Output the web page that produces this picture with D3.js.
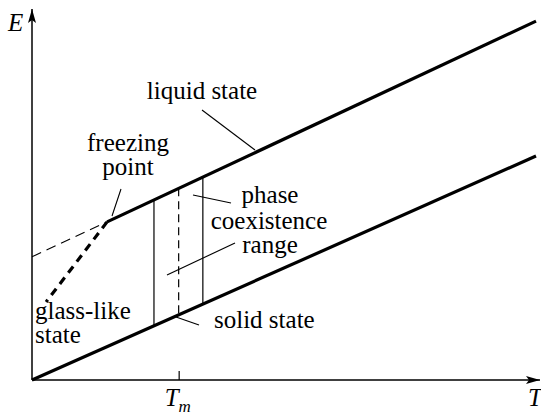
<!DOCTYPE html>
<html>
<head>
<meta charset="utf-8">
<script src="https://cdn.jsdelivr.net/npm/d3@7/dist/d3.min.js"></script>
<style>
  html, body { margin: 0; padding: 0; background: #fff; }
  svg { display: block; }
</style>
</head>
<body>
<svg id="chart" width="541" height="416"></svg>
<script>
// Energy E versus temperature T (schematic), data units
const liquidT = [1.49, 10];      // liquid branch, starts at the freezing point
const liquidE = [3.12, 7.08];
const solidT = [0, 10];          // solid branch
const solidE = [0, 4.42];
const glassT = [0.28, 1.49];     // supercooled / glass-like branch
const glassE = [1.54, 3.12];
const extrapT = [0, 1.49];       // liquid branch extrapolated to T = 0
const extrapE = [2.43, 3.12];
const coexistT = [2.42, 3.39];   // edges of the phase coexistence range
const meltT = [2.91];            // melting temperature T_m
const tickLabels = ["T", "m"];

const FONT = "'Liberation Serif'";
const FS = 25;

// make sure the face is resolved before drawing
const ctx = document.createElement("canvas").getContext("2d");
ctx.font = `${FS}px ${FONT}`; ctx.measureText("liquid state");
ctx.font = `italic ${FS}px ${FONT}`; ctx.measureText("T");

const svg = d3.select("#chart");
const x = d3.scaleLinear().domain([0, 10]).range([32, 536]);
const y = d3.scaleLinear().domain([0, 7.3]).range([380, 10]);

const pts = (ts, es) => ts.map((t, i) => [x(t), y(es[i])]);
const lineGen = d3.line();
const lerp = (ts, es, t) => es[0] + (es[1] - es[0]) * (t - ts[0]) / (ts[1] - ts[0]);

// arrow heads
const defs = svg.append("defs");
defs.append("marker")
  .attr("id", "arrow")
  .attr("viewBox", "0 0 14 8")
  .attr("refX", 14).attr("refY", 4)
  .attr("markerWidth", 14).attr("markerHeight", 8)
  .attr("markerUnits", "userSpaceOnUse")
  .attr("orient", "auto")
  .append("path")
  .attr("d", "M0,0 L14,4 L0,8 L3,4 Z")
  .attr("fill", "#000");

// axes
svg.append("line")
  .attr("x1", x(0)).attr("y1", y(0)).attr("x2", 540).attr("y2", y(0))
  .attr("stroke", "#000").attr("stroke-width", 1.5)
  .attr("marker-end", "url(#arrow)");
svg.append("line")
  .attr("x1", x(0)).attr("y1", y(0)).attr("x2", x(0)).attr("y2", 9)
  .attr("stroke", "#000").attr("stroke-width", 1.5)
  .attr("marker-end", "url(#arrow)");

// T_m tick via d3 axis
const axis = d3.axisBottom(x).tickValues(meltT).tickSizeInner(-9).tickSizeOuter(0).tickFormat("");
const gAxis = svg.append("g").attr("transform", `translate(0,${y(0)})`).call(axis);
gAxis.select(".domain").remove();
gAxis.selectAll(".tick line").attr("stroke", "#000").attr("stroke-width", 1.2);

// T_m label
const tmLabel = svg.append("text")
  .attr("x", x(meltT[0]) - 14).attr("y", 406)
  .attr("font-family", FONT)
  .attr("font-style", "italic").attr("font-size", 25);
tmLabel.append("tspan").text(tickLabels[0]);
tmLabel.append("tspan").attr("font-size", 17).attr("dy", 6).attr("dx", 0).text(tickLabels[1]);

// axis titles
svg.append("text").attr("x", 8).attr("y", 31).attr("font-family", FONT)
  .attr("font-style", "italic").attr("font-size", 25).text("E");
svg.append("text").attr("x", 528).attr("y", 406).attr("font-family", FONT)
  .attr("font-style", "italic").attr("font-size", 25).text("T");

// extrapolated liquid line (thin dashed)
svg.append("path")
  .attr("d", lineGen(pts(extrapT, extrapE)))
  .attr("fill", "none").attr("stroke", "#000").attr("stroke-width", 1.1)
  .attr("stroke-dasharray", "10,6");

// glass-like branch (thick dashed)
svg.append("path")
  .attr("d", lineGen(pts(glassT.slice().reverse(), glassE.slice().reverse())))
  .attr("fill", "none").attr("stroke", "#000").attr("stroke-width", 3.2)
  .attr("stroke-dasharray", "8,6");

// coexistence verticals
coexistT.forEach(t => {
  svg.append("line")
    .attr("x1", x(t)).attr("x2", x(t))
    .attr("y1", y(lerp(solidT, solidE, t))).attr("y2", y(lerp(liquidT, liquidE, t)))
    .attr("stroke", "#000").attr("stroke-width", 1.2);
});
svg.append("line")
  .attr("x1", x(meltT[0])).attr("x2", x(meltT[0]))
  .attr("y1", y(lerp(liquidT, liquidE, meltT[0]))).attr("y2", y(lerp(solidT, solidE, meltT[0])))
  .attr("stroke", "#000").attr("stroke-width", 1.2)
  .attr("stroke-dasharray", "8,5");

// liquid and solid branches
[[liquidT, liquidE], [solidT, solidE]].forEach(([ts, es]) => {
  svg.append("path")
    .attr("d", lineGen(pts(ts, es)))
    .attr("fill", "none").attr("stroke", "#000").attr("stroke-width", 3.2);
});

// annotation leaders
const leaders = [
  [[202, 110], [255, 150]],
  [[121, 189], [112, 216]],
  [[231, 203], [193, 195]],
  [[235, 243], [167, 275]],
  [[199, 325], [176, 317]]
];
leaders.forEach(l => {
  svg.append("path").attr("d", lineGen(l))
    .attr("fill", "none").attr("stroke", "#000").attr("stroke-width", 1.1);
});

// annotation labels
const labels = [
  { t: "liquid state", x: 202, y: 99, a: "middle" },
  { t: "freezing", x: 128, y: 151, a: "middle" },
  { t: "point", x: 128, y: 175, a: "middle" },
  { t: "phase", x: 270, y: 203, a: "middle" },
  { t: "coexistence", x: 269, y: 229, a: "middle" },
  { t: "range", x: 270, y: 253, a: "middle" },
  { t: "solid state", x: 214, y: 328, a: "start" },
  { t: "glass-like", x: 35, y: 319, a: "start" },
  { t: "state", x: 35, y: 343, a: "start" }
];
labels.forEach(d => {
  svg.append("text").attr("x", d.x).attr("y", d.y)
    .attr("font-family", FONT)
    .attr("text-anchor", d.a).attr("font-size", FS).text(d.t);
});
</script>
</body>
</html>
